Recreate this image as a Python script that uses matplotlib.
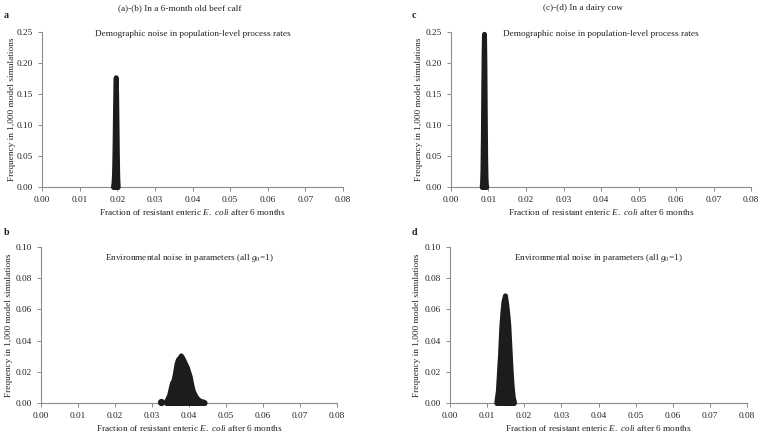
import matplotlib
matplotlib.use("Agg")
import matplotlib.pyplot as plt
import numpy as np

plt.rcParams['font.family'] = ['Liberation Serif', 'DejaVu Serif']
plt.rcParams['mathtext.fontset'] = 'custom'
plt.rcParams['mathtext.rm'] = 'Liberation Serif'
plt.rcParams['mathtext.it'] = 'Liberation Serif:italic'

# ---- data ----
# (a) beef calf, demographic noise
a_x = [0.0189, 0.0190, 0.0191, 0.0192, 0.0193, 0.0194, 0.0195, 0.0196,
       0.0197, 0.0198, 0.0199, 0.0200, 0.0201]
a_freq = [0.002, 0.006, 0.015, 0.035, 0.070, 0.120, 0.160, 0.177,
          0.150, 0.100, 0.050, 0.015, 0.003]
# (b) beef calf, environmental noise
b_x = [0.0324, 0.0338, 0.0342, 0.0346, 0.0350, 0.0354, 0.0358, 0.0362,
       0.0366, 0.0370, 0.0374, 0.0378, 0.0382, 0.0386, 0.0390, 0.0394,
       0.0398, 0.0402, 0.0406, 0.0410, 0.0414, 0.0418, 0.0422, 0.0426,
       0.0430, 0.0434, 0.0438, 0.0442]
b_freq = [0.0005, 0.001, 0.003, 0.005, 0.009, 0.013, 0.0145, 0.019,
          0.025, 0.028, 0.029, 0.0305, 0.029, 0.027, 0.025, 0.023,
          0.020, 0.017, 0.012, 0.008, 0.006, 0.004, 0.003, 0.002,
          0.0015, 0.001, 0.001, 0.0005]
# (c) dairy cow, demographic noise
c_x = [0.0082, 0.0083, 0.0084, 0.0085, 0.0086, 0.0087, 0.0088, 0.0089,
       0.0090, 0.0091, 0.0092, 0.0093, 0.0094]
c_freq = [0.002, 0.008, 0.030, 0.080, 0.150, 0.215, 0.247, 0.200,
          0.120, 0.050, 0.015, 0.004, 0.001]
# (d) dairy cow, environmental noise
d_x = [0.0125, 0.0129, 0.0132, 0.0135, 0.0138, 0.0141, 0.0144, 0.0148,
       0.0151, 0.0154, 0.0157, 0.0160, 0.0163, 0.0166, 0.0169, 0.0172]
d_freq = [0.001, 0.008, 0.020, 0.032, 0.048, 0.058, 0.065, 0.069,
          0.064, 0.058, 0.050, 0.036, 0.022, 0.011, 0.004, 0.001]

x_ticks = [0.00, 0.01, 0.02, 0.03, 0.04, 0.05, 0.06, 0.07, 0.08]
y_ticks_top = [0.00, 0.05, 0.10, 0.15, 0.20, 0.25]
y_ticks_bot = [0.00, 0.02, 0.04, 0.06, 0.08, 0.10]

W, H = 761, 434
fig = plt.figure(figsize=(W / 100, H / 100), dpi=100)

TXT = '#222222'
SP = '#8c8c8c'
MARK = '#1c1c1c'
FS = 6.7

def px_axes(l, t, r, b):
    return fig.add_axes([l / W, 1 - b / H, (r - l) / W, (b - t) / H])

def draw_marks(ax, x, f):
    x = np.asarray(x)
    f = np.asarray(f)
    # split into contiguous groups (gap larger than 0.001)
    breaks = np.where(np.diff(x) > 0.001)[0] + 1
    for gx, gf in zip(np.split(x, breaks), np.split(f, breaks)):
        if len(gx) == 1:
            ax.plot(gx, gf, 'o', color=MARK, ms=4.2, mec=MARK, zorder=3,
                    clip_on=False)
        else:
            ax.fill_between(gx, 0, gf, facecolor=MARK, edgecolor=MARK,
                            linewidth=3.6, joinstyle='round',
                            capstyle='round', zorder=3, clip_on=False)

def style(ax, x, f, yticks, inner, inner_y, ylab_x, xlab_y):
    draw_marks(ax, x, f)
    ax.set_xlim(0, 0.08)
    ax.set_ylim(0, yticks[-1])
    ax.set_xticks(x_ticks)
    ax.set_xticklabels(['%.2f' % v for v in x_ticks])
    ax.set_yticks(yticks)
    ax.set_yticklabels(['%.2f' % v for v in yticks])
    for s in ['top', 'right']:
        ax.spines[s].set_visible(False)
    for s in ['left', 'bottom']:
        ax.spines[s].set_color(SP)
        ax.spines[s].set_linewidth(0.8)
    ax.tick_params(axis='both', direction='out', length=3, width=0.7,
                   colors=SP, labelcolor=TXT, labelsize=FS, pad=3.5)
    ax.set_xlabel(r'Fraction of resistant enteric $\mathit{E.\ coli}$ after 6 months',
                  fontsize=FS, color=TXT)
    ax.set_ylabel('Frequency in 1,000 model simulations', fontsize=FS, color=TXT)
    ax.xaxis.set_label_coords(0.5, xlab_y)
    ax.yaxis.set_label_coords(ylab_x, 0.5)
    ax.text(0.5, inner_y, inner, transform=ax.transAxes, ha='center',
            va='center', fontsize=FS, color=TXT)
    ax.patch.set_alpha(0)

ax_a = px_axes(42, 32, 343, 187)
style(ax_a, a_x, a_freq, y_ticks_top,
      'Demographic noise in population-level process rates', 0.99, -0.085, -0.13)
ax_c = px_axes(451, 32, 751, 187)
style(ax_c, c_x, c_freq, y_ticks_top,
      'Demographic noise in population-level process rates', 0.99, -0.092, -0.13)
ax_b = px_axes(41, 247, 337, 403)
style(ax_b, b_x, b_freq, y_ticks_bot,
      r'Environmental noise in parameters (all $\mathit{g}_{0}$=1)', 0.927, -0.096, -0.13)
ax_d = px_axes(450, 247, 747, 403)
style(ax_d, d_x, d_freq, y_ticks_bot,
      r'Environmental noise in parameters (all $\mathit{g}_{0}$=1)', 0.927, -0.096, -0.13)

fig.text(180 / W, 1 - 8 / H, '(a)-(b) In a 6-month old beef calf',
         ha='center', va='center', fontsize=FS, color=TXT)
fig.text(583 / W, 1 - 8 / H, '(c)-(d) In a dairy cow',
         ha='center', va='center', fontsize=FS, color=TXT)
for lab, x, y in [('a', 4, 15), ('c', 412, 15), ('b', 4, 233), ('d', 412, 233)]:
    fig.text(x / W, 1 - y / H, lab, ha='left', va='center', fontsize=7.2,
             fontweight='bold', color=TXT)

fig.savefig('out.png', dpi=100)
